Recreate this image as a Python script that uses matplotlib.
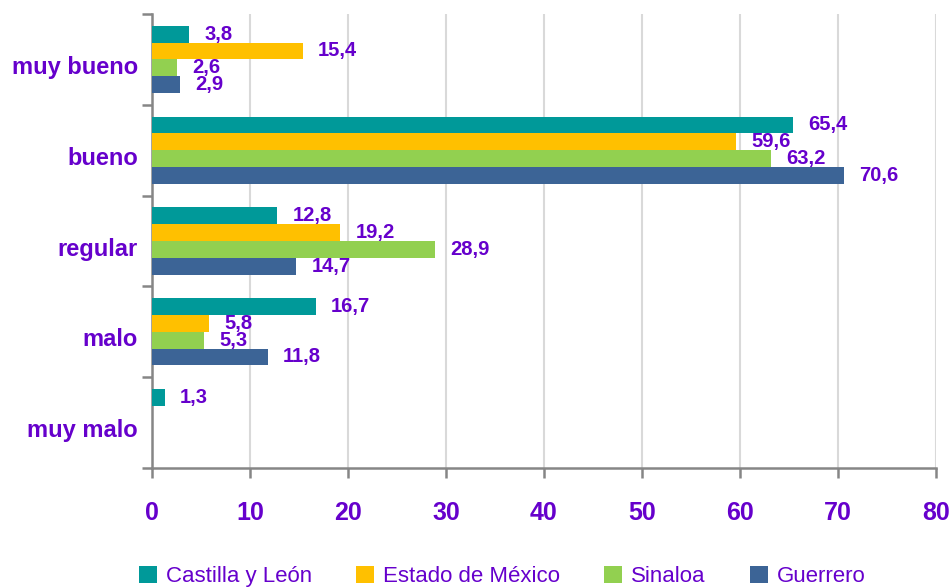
import numpy as np
import matplotlib.pyplot as plt
import matplotlib.transforms as mtransforms
from matplotlib.ticker import FixedLocator

plt.rcParams["font.family"] = ["Liberation Sans", "DejaVu Sans"]

# ---------------------------------------------------------------------------
# Data
# ---------------------------------------------------------------------------
categories = ["muy bueno", "bueno", "regular", "malo", "muy malo"]
series_names = ["Castilla y León", "Estado de México", "Sinaloa", "Guerrero"]
castilla = [3.8, 65.4, 12.8, 16.7, 1.3]
mexico = [15.4, 59.6, 19.2, 5.8, np.nan]
sinaloa = [2.6, 63.2, 28.9, 5.3, np.nan]
guerrero = [2.9, 70.6, 14.7, 11.8, np.nan]
x_ticks = [0, 10, 20, 30, 40, 50, 60, 70, 80]

COLORS = ["#009999", "#FFC000", "#92D050", "#3C6496"]
PURPLE = "#6600CC"
AXIS_GREY = "#868686"
GRID_GREY = "#D9D9D9"

fig = plt.figure(figsize=(9.51, 5.88), dpi=100)
ax = fig.add_axes([0.1598, 0.2041, 0.8244, 0.7721])

n_cat = len(categories)
y_pos = np.arange(n_cat)[::-1].astype(float)  # first category at top
bar_h = 0.185
offsets = np.array([1.5, 0.5, -0.5, -1.5]) * bar_h

for vals, name, color, off in zip([castilla, mexico, sinaloa, guerrero],
                                  series_names, COLORS, offsets):
    vals = np.asarray(vals, dtype=float)
    mask = ~np.isnan(vals)
    ax.barh(y_pos[mask] + off, vals[mask], height=bar_h, color=color,
            edgecolor="none", label=name, zorder=3)
    for y, v in zip(y_pos[mask] + off, vals[mask]):
        ax.annotate(f"{v:.1f}".replace(".", ","), xy=(v, y),
                    xytext=(11, 0), textcoords="offset points",
                    ha="left", va="center", color=PURPLE,
                    fontsize=14.5, fontweight="bold", zorder=4)

ax.set_xlim(0, 80)
ax.set_ylim(-0.5, n_cat - 0.5)

# x axis
ax.xaxis.set_major_locator(FixedLocator(x_ticks))
ax.set_xticklabels([str(t) for t in x_ticks])
ax.tick_params(axis="x", direction="out", length=7, width=1.8,
               color=AXIS_GREY, labelcolor=PURPLE, labelsize=18, pad=17)
for lbl in ax.get_xticklabels():
    lbl.set_fontweight("bold")

# y axis: labels at category centres, tick marks at boundaries
ax.set_yticks(y_pos)
ax.set_yticklabels(categories)
ax.tick_params(axis="y", which="major", length=0, labelcolor=PURPLE,
               labelsize=17, pad=10)
shift = mtransforms.ScaledTranslation(0, -4 / 72, fig.dpi_scale_trans)
for lbl in ax.get_yticklabels():
    lbl.set_fontweight("bold")
    lbl.set_transform(lbl.get_transform() + shift)
ax.yaxis.set_minor_locator(FixedLocator(np.arange(-0.5, n_cat, 1.0)))
ax.tick_params(axis="y", which="minor", direction="out", length=7,
               width=1.8, color=AXIS_GREY)

ax.grid(axis="x", color=GRID_GREY, linewidth=1.5, zorder=0)
ax.set_axisbelow(True)

for side in ["top", "right"]:
    ax.spines[side].set_visible(False)
for side in ["left", "bottom"]:
    ax.spines[side].set_color(AXIS_GREY)
    ax.spines[side].set_linewidth(1.8)

leg = fig.legend(loc="center", bbox_to_anchor=(0.528, 0.02), ncol=4,
                 frameon=False, fontsize=16, handlelength=0.8,
                 handleheight=0.8, handletextpad=0.4, columnspacing=2.0,
                 labelcolor=PURPLE)

fig.savefig("out.png", dpi=100)
